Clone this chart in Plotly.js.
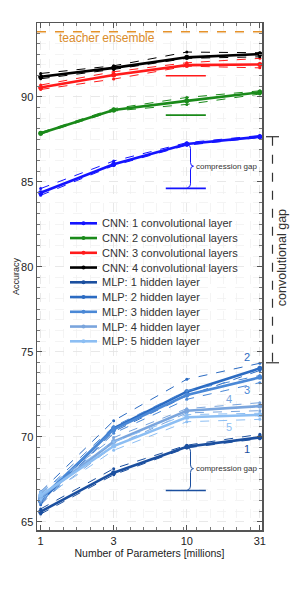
<!DOCTYPE html>
<html><head><meta charset="utf-8">
<script src="https://cdn.plot.ly/plotly-3.0.1.min.js"></script>
<style>html,body{margin:0;padding:0;background:#fff}#chart{width:291px;height:594px}</style>
</head><body><div id="chart"></div>
<script>
// ---- data ----
const params = [1, 3.16, 10, 31.6];
const tickVals = [1, 3.16, 10, 31.6];
const tickText = ['1', '3', '10', '31'];

const cnnNames = ['CNN: 1 convolutional layer','CNN: 2 convolutional layers','CNN: 3 convolutional layers','CNN: 4 convolutional layers'];
const cnn1Mean = [84.35, 86.03, 87.22, 87.65];
const cnn1Hi   = [84.60, 86.22, 87.30, 87.72];
const cnn1Lo   = [84.20, 85.95, 87.15, 87.60];
const cnn2Mean = [87.85, 89.22, 89.76, 90.26];
const cnn2Hi   = [87.90, 89.30, 89.96, 90.35];
const cnn2Lo   = [87.80, 89.16, 89.55, 90.16];
const cnn3Mean = [90.55, 91.28, 91.86, 91.90];
const cnn3Hi   = [90.69, 91.47, 92.00, 92.26];
const cnn3Lo   = [90.43, 91.04, 91.80, 91.70];
const cnn4Mean = [91.18, 91.70, 92.32, 92.51];
const cnn4Hi   = [91.37, 91.82, 92.63, 92.59];
const cnn4Lo   = [91.06, 91.61, 92.26, 92.35];

const mlpNames = ['MLP: 1 hidden layer','MLP: 2 hidden layer','MLP: 3 hidden layer','MLP: 4 hidden layer','MLP: 5 hidden layer'];
const mlp1Mean = [65.59, 67.88, 69.41, 69.96];
const mlp1Hi   = [65.75, 68.12, 69.50, 70.14];
const mlp1Lo   = [65.45, 67.76, 69.34, 69.88];
const mlp2Mean = [66.20, 70.49, 72.65, 74.02];
const mlp2Hi   = [66.76, 70.94, 73.38, 74.32];
const mlp2Lo   = [66.00, 70.30, 72.40, 73.90];
const mlp3Mean = [66.35, 70.43, 72.45, 73.49];
const mlp3Hi   = [66.60, 70.60, 72.70, 73.60];
const mlp3Lo   = [66.10, 70.20, 72.20, 73.18];
const mlp4Mean = [66.45, 69.71, 71.53, 71.80];
const mlp4Hi   = [66.70, 69.95, 71.65, 72.00];
const mlp4Lo   = [66.20, 69.45, 71.40, 71.53];
const mlp5Mean = [66.55, 69.45, 71.14, 71.28];
const mlp5Hi   = [66.75, 69.70, 71.30, 71.38];
const mlp5Lo   = [66.30, 69.20, 70.88, 71.02];

const teacherAcc = 93.82;
const compressedX = [7.18, 13.5];
const compressedAcc = [84.61, 88.92, 91.24, 66.83]; // CNN1, CNN2, CNN3, MLP1
const mlpLabels = ['1','2','3','4','5'];
const mlpLabelX = [25.8, 25.8, 25.8, 19.3, 19.3];
const mlpLabelY = [69.26, 74.67, 72.75, 72.2, 70.55];
const convGap = [87.65, 74.35];

// ---- styles ----
const cnnColors = ['#1414ff', '#1a8a1a', '#ff1a1a', '#000000'];
const mlpColors = ['#1b4f9f', '#2b6bc2', '#4a88d6', '#7aa5dd', '#8cbef3'];
const FONT = 'Liberation Sans, Arial, sans-serif';

const cnnSets = [[cnn1Mean,cnn1Hi,cnn1Lo],[cnn2Mean,cnn2Hi,cnn2Lo],[cnn3Mean,cnn3Hi,cnn3Lo],[cnn4Mean,cnn4Hi,cnn4Lo]];
const mlpSets = [[mlp1Mean,mlp1Hi,mlp1Lo],[mlp2Mean,mlp2Hi,mlp2Lo],[mlp3Mean,mlp3Hi,mlp3Lo],[mlp4Mean,mlp4Hi,mlp4Lo],[mlp5Mean,mlp5Hi,mlp5Lo]];

const traces = [];
function addSeries(set, name, color) {
  [set[1], set[2]].forEach(b => traces.push({
    x: params, y: b, mode: 'lines+markers', showlegend: false, hoverinfo: 'skip',
    line: {color: color, width: 1, dash: 'dash'}, marker: {color: color, size: 3}
  }));
  traces.push({
    x: params, y: set[0], mode: 'lines+markers', name: name, showlegend: false,
    line: {color: color, width: 2.6}, marker: {color: color, size: 5}
  });
}
mlpSets.forEach((s, i) => addSeries(s, mlpNames[i], mlpColors[i]));
cnnSets.forEach((s, i) => addSeries(s, cnnNames[i], cnnColors[i]));

const barColors = [cnnColors[0], cnnColors[1], cnnColors[2], mlpColors[0]];
compressedAcc.forEach((v, i) => traces.push({
  x: compressedX, y: [v, v], mode: 'lines', showlegend: false, hoverinfo: 'skip',
  line: {color: barColors[i], width: 1.6}
}));

// ---- geometry helpers ----
const L = 37, R = 262, T = 23, B = 530, W = 291, H = 594;
const px2paper = p => (p - L) / (R - L);
const py2paper = p => (B - p) / (B - T);

function bracePath(x0, x1, yt, yb) {
  const xm = (x0 + x1) / 2, ym = (yt + yb) / 2, d = 0.22;
  return `M ${x0},${yt} Q ${xm},${yt} ${xm},${yt-d} L ${xm},${ym+d} Q ${xm},${ym} ${x1},${ym} ` +
         `Q ${xm},${ym} ${xm},${ym-d} L ${xm},${yb+d} Q ${xm},${yb} ${x0},${yb}`;
}

const shapes = [
  {type: 'line', xref: 'paper', yref: 'y', x0: 0, x1: 1, y0: teacherAcc, y1: teacherAcc,
   line: {color: '#e5922a', width: 1.5, dash: 'dash'}},
  {type: 'path', xref: 'paper', yref: 'y', path: bracePath(px2paper(187.5), px2paper(193.5), cnn1Mean[2] - 0.05, compressedAcc[0] + 0.05),
   line: {color: cnnColors[0], width: 1}},
  {type: 'path', xref: 'paper', yref: 'y', path: bracePath(px2paper(187.5), px2paper(193.5), mlp1Mean[2] - 0.05, compressedAcc[3] + 0.05),
   line: {color: mlpColors[0], width: 1}},
  {type: 'line', xref: 'paper', yref: 'y', x0: px2paper(266), x1: px2paper(279), y0: convGap[0], y1: convGap[0],
   line: {color: '#333', width: 1.2}},
  {type: 'line', xref: 'paper', yref: 'y', x0: px2paper(266), x1: px2paper(279), y0: convGap[1], y1: convGap[1],
   line: {color: '#333', width: 1.2}},
  {type: 'line', xref: 'paper', yref: 'y', x0: px2paper(272.5), x1: px2paper(272.5), y0: convGap[0], y1: convGap[1],
   line: {color: '#333', width: 1.2, dash: 'dash'}}
];

const annotations = [
  {xref: 'paper', yref: 'y', x: px2paper(57), y: 93.47, xanchor: 'left', yanchor: 'middle', showarrow: false,
   text: 'teacher ensemble', font: {family: FONT, size: 12, color: '#d98b2b'}},
  {xref: 'paper', yref: 'y', x: px2paper(194), y: 85.9, xanchor: 'left', yanchor: 'middle', showarrow: false,
   text: 'compression gap', font: {family: FONT, size: 8, color: '#333'}},
  {xref: 'paper', yref: 'y', x: px2paper(194), y: 68.12, xanchor: 'left', yanchor: 'middle', showarrow: false,
   text: 'compression gap', font: {family: FONT, size: 8, color: '#333'}},
  {xref: 'paper', yref: 'y', x: px2paper(282), y: 80.5, xanchor: 'center', yanchor: 'middle', showarrow: false,
   textangle: -90, text: 'convolutional gap', font: {family: FONT, size: 12.5, color: '#333'}}
];
mlpLabels.forEach((t, i) => annotations.push({
  xref: 'x', yref: 'y', x: Math.log10(mlpLabelX[i]), y: mlpLabelY[i], showarrow: false,
  text: t, font: {family: FONT, size: 11, color: mlpColors[i]}
}));

// ---- legend (compact, drawn as shapes + text) ----
const legendNames = cnnNames.concat(mlpNames);
const legendColors = cnnColors.concat(mlpColors);
legendNames.forEach((nm, i) => {
  const yp = 223.3 + i * 14.75;
  shapes.push({type: 'line', xref: 'paper', yref: 'paper', x0: px2paper(70), x1: px2paper(97),
               y0: py2paper(yp), y1: py2paper(yp), line: {color: legendColors[i], width: 2.6}});
  shapes.push({type: 'circle', xref: 'paper', yref: 'paper', x0: px2paper(81.5), x1: px2paper(85.5),
               y0: py2paper(yp + 2), y1: py2paper(yp - 2), fillcolor: legendColors[i], line: {width: 0}});
  annotations.push({xref: 'paper', yref: 'paper', x: px2paper(100), y: py2paper(yp), xanchor: 'left', yanchor: 'middle',
                    showarrow: false, text: nm, font: {family: FONT, size: 11, color: '#333'}});
});

const layout = {
  width: W, height: H,
  margin: {l: L, r: W - R, t: T, b: H - B, pad: 0},
  paper_bgcolor: '#fff', plot_bgcolor: '#fff',
  font: {family: FONT, size: 11, color: '#222'},
  showlegend: false,
  xaxis: {
    type: 'log', range: [Math.log10(0.944), Math.log10(32.7)],
    tickmode: 'array', tickvals: tickVals, ticktext: tickText,
    ticks: 'inside', ticklen: 5, tickwidth: 1, tickcolor: '#555',
    showline: true, linecolor: '#555', linewidth: 1.5, mirror: 'ticks',
    showgrid: true, gridcolor: '#e2e2e2', griddash: 'dash', gridwidth: 0.8,
    zeroline: false, tickfont: {family: FONT, size: 11, color: '#222'},
    minor: {tick0: -0.0276, dtick: 0.0913, ticks: 'inside', ticklen: 3, tickcolor: '#777',
            showgrid: true, gridcolor: '#efefef', griddash: 'dash', gridwidth: 0.7},
    title: {text: 'Number of Parameters [millions]', font: {family: FONT, size: 10.5, color: '#222'}, standoff: 2}
  },
  yaxis: {
    range: [64.51, 94.34], tickmode: 'linear', tick0: 65, dtick: 5,
    ticks: 'inside', ticklen: 5, tickwidth: 1, tickcolor: '#555',
    showline: true, linecolor: '#555', linewidth: 1.5, mirror: 'ticks',
    showgrid: true, gridcolor: '#e2e2e2', griddash: 'dash', gridwidth: 0.8,
    zeroline: false, tickfont: {family: FONT, size: 11, color: '#222'},
    minor: {dtick: 0.625, ticks: 'inside', ticklen: 3, tickcolor: '#777',
            showgrid: true, gridcolor: '#efefef', griddash: 'dash', gridwidth: 0.7},
    title: {text: 'Accuracy', font: {family: FONT, size: 9, color: '#222'}, standoff: 0}
  },
  shapes: shapes, annotations: annotations
};

Plotly.newPlot('chart', traces, layout, {displayModeBar: false, staticPlot: true});
</script></body></html>
